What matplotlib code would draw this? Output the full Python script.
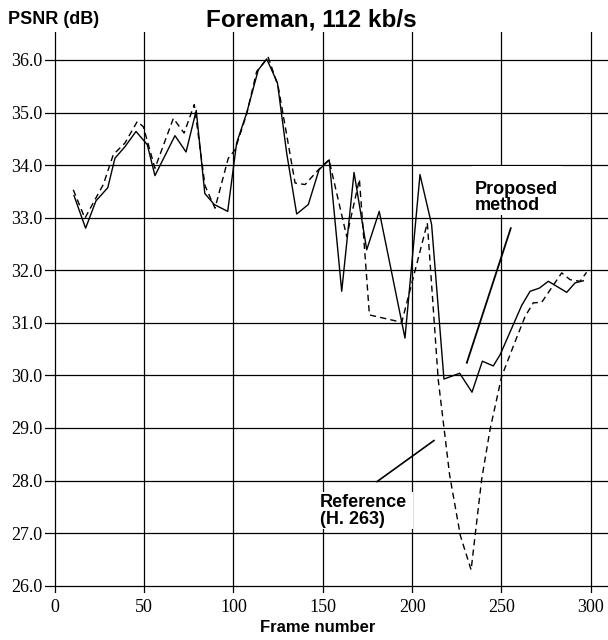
import matplotlib
matplotlib.use("Agg")
import matplotlib.pyplot as plt
from matplotlib.patches import Rectangle

# Proposed method (solid)
prop_frames = [10.8, 17.3, 23.1, 29.7, 33.7, 39.3, 45.5, 51.8, 56.1, 67.3, 73.5, 79.2,
               84.0, 89.3, 96.8, 101.8, 107.4, 113.9, 118.6, 124.6, 129.8, 135.4, 141.9,
               147.9, 153.6, 160.6, 167.5, 174.6, 181.6, 196.0, 204.4, 210.9, 217.8,
               226.6, 233.5, 239.3, 245.4, 249.2, 261.3, 266.0, 271.2, 276.2, 286.5,
               291.2, 295.8]
prop_psnr = [33.42, 32.80, 33.32, 33.57, 34.13, 34.35, 34.64, 34.39, 33.80, 34.56, 34.25, 35.04,
             33.46, 33.25, 33.12, 34.42, 34.99, 35.81, 36.02, 35.57, 34.23, 33.07, 33.25,
             33.91, 34.10, 31.60, 33.86, 32.39, 33.12, 30.71, 33.82, 32.87, 29.93,
             30.04, 29.68, 30.27, 30.18, 30.39, 31.33, 31.60, 31.66, 31.79, 31.58,
             31.76, 31.80]

# Reference H.263 (dashed)
ref_frames = [10.4, 16.9, 22.5, 27.2, 32.8, 39.3, 46.2, 49.6, 56.1, 66.4, 72.4, 78.1,
              84.1, 89.7, 97.1, 100.9, 107.4, 113.0, 119.5, 125.1, 134.5, 140.1, 147.5,
              150.3, 153.5, 163.4, 170.5, 176.1, 194.2, 208.5, 214.6, 221.0, 227.0,
              233.0, 238.9, 243.6, 250.1, 257.6, 263.2, 267.8, 272.5, 283.7, 288.4,
              294.0, 297.6]
ref_psnr = [33.53, 32.99, 33.34, 33.63, 34.20, 34.42, 34.83, 34.73, 33.94, 34.89, 34.61, 35.15,
            33.61, 33.18, 34.13, 34.29, 34.97, 35.78, 36.05, 35.49, 33.66, 33.63, 33.91,
            34.00, 34.10, 32.64, 33.73, 31.15, 31.01, 32.90, 29.92, 28.10, 26.95,
            26.30, 28.02, 28.97, 29.98, 30.64, 31.12, 31.38, 31.39, 31.95, 31.82,
            31.79, 31.96]

x_ticks = [0, 50, 100, 150, 200, 250, 300]
y_ticks = [26.0, 27.0, 28.0, 29.0, 30.0, 31.0, 32.0, 33.0, 34.0, 35.0, 36.0]
y_tick_labels = ["26.0", "27.0", "28.0", "29.0", "30.0", "31.0", "32.0", "33.0", "34.0", "35.0", "36.0"]

W, H = 608, 640
fig = plt.figure(figsize=(W / 100, H / 100), dpi=100)
left_px, right_px, top_px, bot_px = 45.4, 608, 31.6, 593
ax = fig.add_axes([left_px / W, 1 - bot_px / H, (right_px - left_px) / W, (bot_px - top_px) / H])
ax.set_xlim(-5.2, 309.6)
ax.set_ylim(25.86, 36.54)

for s in ax.spines.values():
    s.set_visible(False)
ax.set_xticks(x_ticks)
ax.set_yticks(y_ticks)
ax.set_yticklabels(y_tick_labels)
ax.tick_params(axis="both", length=0, labelsize=13)
ax.tick_params(axis="y", pad=2)
ax.tick_params(axis="x", pad=4)
for lab in ax.get_xticklabels() + ax.get_yticklabels():
    lab.set_fontfamily("Liberation Serif")
ax.grid(True, color="black", linewidth=0.9, zorder=0)
ax.set_axisbelow(True)

ax.plot(prop_frames, prop_psnr, color="black", linewidth=1.0, zorder=3)
ax.plot(ref_frames, ref_psnr, color="black", linewidth=1.0, linestyle=(0, (4.5, 3)), zorder=3)

# White boxes behind annotations
ax.add_patch(Rectangle((233.5, 33.05), 50.4, 0.94, facecolor="white", edgecolor="none", zorder=1))
ax.add_patch(Rectangle((146.8, 27.08), 53.7, 0.71, facecolor="white", edgecolor="none", zorder=1))

bold = dict(fontfamily="Liberation Sans", fontweight="bold")
ax.text(235.2, 33.449, "Proposed", fontsize=13, ha="left", va="baseline", zorder=4, **bold)
ax.text(235.2, 33.137, "method", fontsize=13, ha="left", va="baseline", zorder=4, **bold)
ax.text(148.2, 27.49, "Reference", fontsize=13, ha="left", va="baseline", zorder=4, **bold)
ax.text(148.2, 27.17, "(H. 263)", fontsize=13, ha="left", va="baseline", zorder=4, **bold)

ax.plot([255.2, 230.6], [32.80, 30.24], color="black", linewidth=1.3, zorder=4)
ax.plot([180.4, 212.2], [27.98, 28.76], color="black", linewidth=1.2, zorder=4)

fig.text(8 / W, 1 - 19 / H, "PSNR (dB)", fontsize=13, ha="left", va="center", **bold)
fig.text(311.5 / W, 1 - 20 / H, "Foreman, 112 kb/s", fontsize=17.5, ha="center", va="center", **bold)
fig.text(318 / W, 1 - 628 / H, "Frame number", fontsize=12, ha="center", va="center", **bold)

fig.savefig("out.png", dpi=100)
